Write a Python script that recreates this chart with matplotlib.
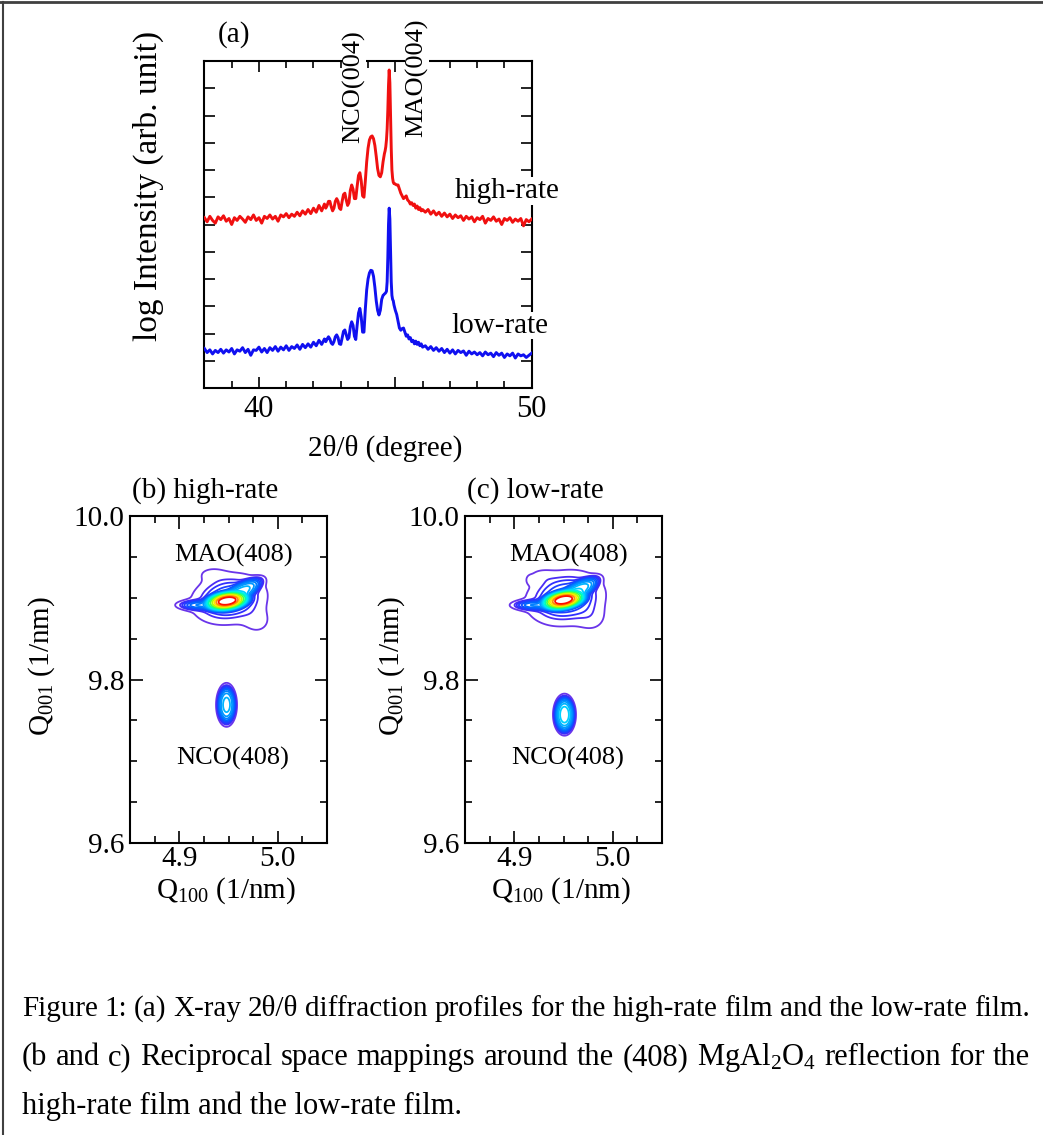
import numpy as np
import matplotlib
matplotlib.use('Agg')
import matplotlib.pyplot as plt
from matplotlib.ticker import MultipleLocator, FixedLocator
from matplotlib.lines import Line2D

plt.rcParams['font.family'] = ['Liberation Serif', 'DejaVu Serif']
plt.rcParams['mathtext.fontset'] = 'custom'
plt.rcParams['mathtext.rm'] = 'Liberation Serif'
plt.rcParams['mathtext.it'] = 'Liberation Serif:italic'
plt.rcParams['mathtext.bf'] = 'Liberation Serif:bold'

# ---------------- XRD 2theta/theta data (y in arb. log units 0..12) -------------
x_A = np.linspace(38.0, 42.4, 45)
x_B = np.linspace(42.45, 44.55, 43)
x_C = np.linspace(44.575, 45.0, 18)
x_D = np.linspace(45.05, 46.0, 20)
x_E = np.linspace(46.1, 50.0, 40)

high_A = [6.25, 6.10, 6.30, 6.15, 6.05, 6.28, 6.18, 6.32, 6.12, 6.22,
          6.00, 6.25, 6.15, 6.30, 6.20, 6.08, 6.28, 6.18, 6.35, 6.15,
          6.25, 6.05, 6.30, 6.22, 6.35, 6.20, 6.30, 6.12, 6.35, 6.28,
          6.40, 6.25, 6.38, 6.30, 6.45, 6.32, 6.50, 6.38, 6.55, 6.40,
          6.60, 6.45, 6.70, 6.50, 6.75]
high_B = [6.60, 6.70, 6.85, 6.85, 6.65, 6.50, 6.60, 6.85, 6.95, 6.85,
          6.60, 6.55, 6.85, 7.10, 7.15, 6.90, 6.70, 6.80, 7.25, 7.45,
          7.30, 6.95, 6.95, 7.40, 7.80, 7.90, 7.60, 7.05, 7.00, 7.60,
          8.30, 8.80, 9.10, 9.22, 9.25, 9.15, 8.90, 8.50, 8.05, 7.80,
          7.75, 7.90, 8.30]
high_C = [8.45, 8.60, 8.70, 8.85, 9.10, 9.50, 10.20, 11.10, 11.67, 11.20,
          10.00, 8.80, 8.00, 7.70, 7.55, 7.50, 7.50, 7.48]
high_D = [7.45, 7.45, 7.30, 7.15, 7.05, 6.95, 7.00, 7.05, 6.90, 6.85,
          6.75, 6.80, 6.70, 6.75, 6.60, 6.68, 6.55, 6.62, 6.50, 6.55]
high_E = [6.45, 6.55, 6.38, 6.50, 6.35, 6.45, 6.30, 6.42, 6.28, 6.38,
          6.22, 6.35, 6.25, 6.32, 6.15, 6.30, 6.20, 6.28, 6.10, 6.25,
          6.18, 6.30, 6.05, 6.22, 6.15, 6.28, 6.12, 6.20, 6.00, 6.22,
          6.15, 6.25, 6.08, 6.20, 6.12, 6.22, 5.95, 6.18, 6.10, 6.20]

low_A = [1.45, 1.30, 1.40, 1.25, 1.38, 1.30, 1.42, 1.28, 1.40, 1.32,
         1.45, 1.25, 1.40, 1.35, 1.48, 1.30, 1.42, 1.20, 1.40, 1.38,
         1.50, 1.32, 1.45, 1.30, 1.48, 1.38, 1.52, 1.35, 1.50, 1.40,
         1.55, 1.38, 1.52, 1.45, 1.58, 1.42, 1.60, 1.48, 1.62, 1.50,
         1.68, 1.55, 1.75, 1.60, 1.80]
low_B = [1.70, 1.80, 1.88, 1.80, 1.65, 1.60, 1.70, 1.88, 1.95, 1.85,
         1.62, 1.60, 1.85, 2.08, 2.13, 1.95, 1.78, 1.85, 2.25, 2.43,
         2.30, 1.90, 1.78, 2.30, 2.75, 2.92, 2.60, 2.05, 2.05, 2.90,
         3.60, 4.00, 4.22, 4.32, 4.30, 4.10, 3.70, 3.20, 2.85, 2.68,
         2.85, 3.25, 3.40]
low_C = [3.42, 3.45, 3.47, 3.50, 3.55, 3.90, 4.80, 6.00, 6.60, 6.20,
         5.00, 3.90, 3.40, 3.25, 3.20, 3.05, 2.95, 2.85]
low_D = [2.70, 2.45, 2.20, 2.12, 2.18, 2.20, 2.05, 1.90, 1.95, 1.80,
         1.85, 1.70, 1.75, 1.62, 1.72, 1.60, 1.68, 1.55, 1.62, 1.50]
low_E = [1.55, 1.42, 1.52, 1.38, 1.48, 1.35, 1.45, 1.30, 1.42, 1.28,
         1.40, 1.25, 1.38, 1.30, 1.36, 1.20, 1.35, 1.25, 1.32, 1.22,
         1.30, 1.18, 1.32, 1.22, 1.28, 1.15, 1.30, 1.20, 1.28, 1.12,
         1.25, 1.18, 1.28, 1.10, 1.25, 1.18, 1.22, 1.12, 1.20, 1.28]

two_theta = np.concatenate([x_A, x_B, x_C, x_D, x_E])
high_rate = np.concatenate([high_A, high_B, high_C, high_D, high_E])
low_rate = np.concatenate([low_A, low_B, low_C, low_D, low_E])
assert len(two_theta) == len(high_rate) == len(low_rate)

# ---------------- RSM peak components ----------------
# (center Q100, center Q001, amplitude, sigma_major_px, sigma_minor_px, angle_deg, profile exponent)
rsm_b = [
    (4.9485, 9.8960, 1.0,   11.0, 4.6, 8, 3),    # MAO core
    (4.9627, 9.9070, 0.030, 14.0, 5.0, 30, 3),   # MAO streak to upper right
    (4.9200, 9.8910, 0.012, 10.0, 2.5, 0, 2),    # MAO left tail
    (4.9505, 9.8985, 0.0077, 18.3, 12.0, 10, 2), # MAO halo
    (4.9790, 9.8715, 0.0012, 10.0, 9.0, 0, 2),   # MAO lower-right bulge
    (4.9333, 9.9290, 0.0010, 10.0, 5.0, 0, 2),   # MAO upper-left bulge
    (4.9480, 9.7690, 0.032,  5.4, 11.3, 0, 3),   # NCO peak
]
rsm_c = [
    (4.9500, 9.8972, 1.0,   11.0, 4.6, 10, 3),
    (4.9642, 9.9082, 0.035, 14.0, 5.0, 30, 3),
    (4.9195, 9.8910, 0.012, 10.0, 2.5, 0, 2),
    (4.9520, 9.8996, 0.0080, 19.0, 13.0, 10, 2),
    (4.9784, 9.8752, 0.0012, 10.0, 9.0, 0, 2),
    (4.9277, 9.9266, 0.0010, 9.0, 5.0, 0, 2),
    (4.9160, 9.9217, 0.0011, 2.5, 3.0, 0, 2),
    (4.9510, 9.7570, 0.050,  5.7, 10.4, 0, 3),
]
levels = [0.0008, 0.0022, 0.0032, 0.0045, 0.0065, 0.009, 0.013, 0.019, 0.028,
          0.04, 0.06, 0.1, 0.18, 0.3, 0.45, 0.62, 0.8]
level_colors = ['#6a35ea', '#4a2cf5', '#3030ff', '#2040ff', '#1050ff', '#0068ff',
                '#0080ff', '#0098ff', '#00b4ff', '#00d0ff', '#00ecf0', '#00ffb0',
                '#40ff50', '#b0ff00', '#ffe800', '#ff9000', '#ff1000']

# ---------------- figure ----------------
W, H = 1043, 1135
fig = plt.figure(figsize=(W / 100, H / 100), dpi=100)


def px_axes(l, t, r, b):
    return fig.add_axes([l / W, 1 - b / H, (r - l) / W, (b - t) / H])


FS = 21
ANN = 19

# ---- panel (a)
ax = px_axes(204.4, 61, 531.7, 388)
ax.plot(two_theta, high_rate, color='#f01010', lw=2.1, zorder=3)
ax.plot(two_theta, low_rate, color='#1010f0', lw=2.1, zorder=3)
ax.set_xlim(38, 50)
ax.set_ylim(0, 12)
ax.xaxis.set_major_locator(FixedLocator([40, 45, 50]))
ax.xaxis.set_minor_locator(MultipleLocator(1))
ax.set_xticklabels(['40', '', '50'])
ax.yaxis.set_major_locator(FixedLocator(list(range(1, 12))))
ax.set_yticklabels([])
ax.tick_params(which='both', direction='in', top=True, right=True, width=1.2)
ax.tick_params(which='major', length=8, labelsize=FS + 1, pad=5)
ax.tick_params(which='minor', length=5)
for s in ax.spines.values():
    s.set_linewidth(1.5)
wb = dict(facecolor='white', edgecolor='none', pad=0.5)
ax.text(43.48, 8.99, 'NCO(004)', rotation=90, ha='center', va='bottom', fontsize=ANN,
        clip_on=False, bbox=wb, zorder=5)
ax.text(45.8, 9.21, 'MAO(004)', rotation=90, ha='center', va='bottom', fontsize=ANN,
        clip_on=False, bbox=wb, zorder=5)
ax.text(47.18, 7.23, 'high-rate', ha='left', va='center', fontsize=FS, clip_on=False,
        bbox=wb, zorder=5)
ax.text(47.07, 2.28, 'low-rate', ha='left', va='center', fontsize=FS, clip_on=False,
        bbox=wb, zorder=5)
ax.text(0.04, 1.058, '(a)', transform=ax.transAxes, ha='left', va='baseline', fontsize=FS)
ax.text(-0.171, 0.618, 'log Intensity (arb. unit)', transform=ax.transAxes, rotation=90,
        ha='center', va='center', fontsize=24)
ax.text(0.553, -0.183, '2θ/θ (degree)', transform=ax.transAxes, ha='center', va='center',
        fontsize=FS)

# ---- RSM panels
PXQ100 = 985.0
PXQ001 = 817.5
q100 = np.linspace(4.85, 5.05, 601)
q001 = np.linspace(9.6, 10.0, 1201)
QX, QY = np.meshgrid(q100, q001)


def rsm_map(comps):
    Z = np.zeros_like(QX)
    for cx, cy, a, sa, sb, ang, p in comps:
        dx = (QX - cx) * PXQ100
        dy = (QY - cy) * PXQ001
        t = np.deg2rad(ang)
        u = dx * np.cos(t) + dy * np.sin(t)
        v = -dx * np.sin(t) + dy * np.cos(t)
        q = (u / sa) ** 2 + (v / sb) ** 2
        Z += a * np.exp(-0.5 * q ** (p / 2.0))
    return Z


def rsm_panel(left, comps, title, ylab_x):
    a = px_axes(left, 516, left + 197, 843)
    a.contour(QX, QY, rsm_map(comps), levels=levels, colors=level_colors, linewidths=1.3)
    a.set_xlim(4.85, 5.05)
    a.set_ylim(9.6, 10.0)
    a.xaxis.set_major_locator(FixedLocator([4.9, 5.0]))
    a.xaxis.set_minor_locator(MultipleLocator(0.025))
    a.set_xticklabels(['4.9', '5.0'])
    a.yaxis.set_major_locator(FixedLocator([9.6, 9.8, 10.0]))
    a.yaxis.set_minor_locator(MultipleLocator(0.05))
    a.set_yticklabels(['9.6', '9.8', '10.0'])
    a.tick_params(which='both', direction='in', top=True, right=True, width=1.2)
    a.tick_params(which='major', length=9, labelsize=FS)
    a.tick_params(axis='x', which='major', pad=2)
    a.tick_params(axis='y', which='major', pad=4)
    a.tick_params(which='minor', length=5)
    for s in a.spines.values():
        s.set_linewidth(1.5)
    a.text(4.955, 9.952, 'MAO(408)', ha='center', va='center', fontsize=ANN)
    a.text(4.954, 9.704, 'NCO(408)', ha='center', va='center', fontsize=ANN)
    a.text(0.01, 1.055, title, transform=a.transAxes, ha='left', va='baseline', fontsize=FS)
    a.text(ylab_x, 0.541, r'Q$_\mathrm{001}$ (1/nm)', transform=a.transAxes, rotation=90,
           ha='center', va='center', fontsize=FS)
    a.text(0.487, -0.147, r'Q$_\mathrm{100}$ (1/nm)', transform=a.transAxes,
           ha='center', va='center', fontsize=FS)
    return a


rsm_panel(130, rsm_b, '(b) high-rate', -0.447)
rsm_panel(465, rsm_c, '(c) low-rate', -0.371)

# ---- caption (justified lines)
cap_lines = [
    ('Figure 1: (a) X-ray 2θ/θ diffraction profiles for the high-rate film and the low-rate film.', 1016, True, 21),
    ('(b and c) Reciprocal space mappings around the (408) MgAl$_\\mathrm{2}$O$_\\mathrm{4}$ reflection for the', 1065, True, 22),
    ('high-rate film and the low-rate film.', 1114, False, 22),
]
renderer = fig.canvas.get_renderer()
X0, X1 = 22, 1030
for line, ybase, justify, cfs in cap_lines:
    if not justify:
        fig.text(X0 / W, 1 - ybase / H, line, fontsize=cfs, ha='left', va='baseline')
        continue
    words = line.split(' ')
    texts = [fig.text(0, 1 - ybase / H, w_, fontsize=cfs, ha='left', va='baseline') for w_ in words]
    widths = [t.get_window_extent(renderer).width for t in texts]
    gap = (X1 - X0 - sum(widths)) / (len(words) - 1)
    xx = X0
    for t, wdt in zip(texts, widths):
        t.set_x(xx / W)
        xx += wdt + gap

# ---- frame lines
fig.add_artist(Line2D([0, 1], [1 - 2 / H, 1 - 2 / H], transform=fig.transFigure, color='#404040', lw=2))
fig.add_artist(Line2D([3 / W, 3 / W], [0, 1 - 2 / H], transform=fig.transFigure, color='#404040', lw=1.5))

fig.savefig('out.png', dpi=100)
